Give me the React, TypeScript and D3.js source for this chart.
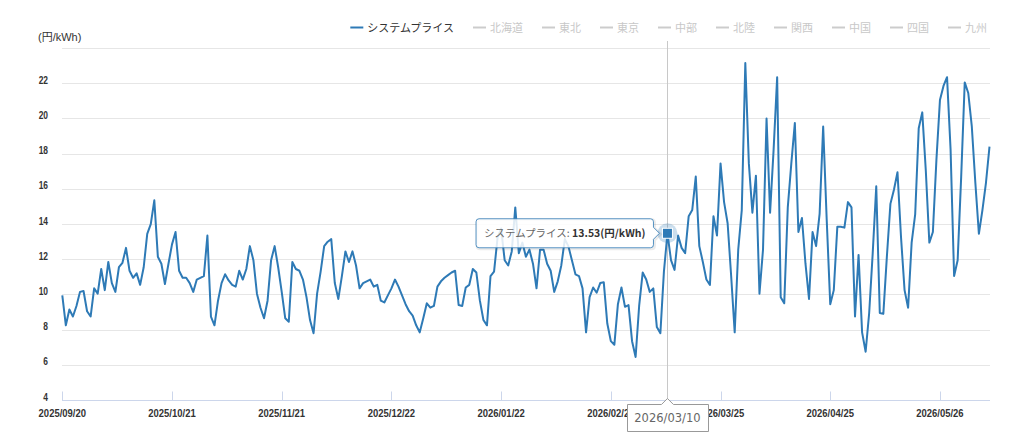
import React, { useRef, useEffect } from "react";
import * as d3 from "d3";

// daily system price (円/kWh), starting 2025/09/20
const startDate = "2025/09/20";
const systemPrice = [
  10.0, 8.3, 9.2, 8.8, 9.4, 10.2, 10.25, 9.1, 8.8, 10.4,
  10.1, 11.5, 10.3, 11.9, 10.7, 10.2, 11.6, 11.85, 12.7, 11.4,
  11.0, 11.25, 10.6, 11.6, 13.5, 14.05, 15.4, 12.2, 11.8, 10.65,
  11.8, 12.9, 13.6, 11.4, 11.0, 11.0, 10.7, 10.2, 10.9, 11.0,
  11.1, 13.4, 8.8, 8.3, 9.7, 10.7, 11.2, 10.85, 10.6, 10.5,
  11.4, 10.9, 11.5, 12.8, 12.0, 10.1, 9.3, 8.7, 9.7, 12.0,
  12.8, 11.6, 10.2, 8.7, 8.5, 11.9, 11.5, 11.4, 10.9, 9.9,
  8.6, 7.85, 10.1, 11.35, 12.8, 13.05, 13.2, 10.7, 9.8, 11.1,
  12.5, 11.9, 12.5, 11.7, 10.4, 10.7, 10.8, 10.9, 10.5, 10.6,
  9.7, 9.6, 10.0, 10.4, 10.9, 10.5, 10.0, 9.5, 9.1, 8.85,
  8.3, 7.9, 8.7, 9.55, 9.3, 9.4, 10.5, 10.8, 11.0, 11.15,
  11.3, 11.4, 9.45, 9.4, 10.45, 10.6, 11.5, 11.3, 9.7, 8.6,
  8.3, 11.1, 11.35, 13.3, 13.8, 12.0, 11.7, 12.5, 15.0, 12.4,
  13.0, 12.2, 12.6, 11.8, 10.4, 12.6, 12.6, 11.8, 11.4, 10.2,
  10.8, 11.7, 13.2, 12.8, 12.0, 11.2, 11.1, 10.4, 7.9, 9.9,
  10.45, 10.15, 10.7, 10.75, 8.4, 7.4, 7.2, 9.5, 10.45, 9.35,
  9.45, 7.4, 6.5, 9.4, 11.3, 10.9, 10.2, 10.4, 8.2, 7.85,
  11.35, 13.53, 12.0, 11.45, 13.4, 12.7, 12.4, 14.5, 14.85, 16.75,
  12.8, 11.9, 10.9, 10.6, 14.5, 13.4, 17.5, 15.3, 14.1, 11.1,
  7.9, 12.6, 14.85, 23.2, 17.5, 14.7, 16.8, 10.1, 12.6, 20.05,
  14.7, 18.3, 22.4, 9.9, 9.55, 15.0, 17.5, 19.8, 13.6, 14.4,
  11.8, 9.8, 13.6, 12.8, 14.65, 19.6, 14.3, 9.5, 10.3, 13.9,
  13.9, 13.85, 15.3, 15.0, 8.8, 12.3, 7.9, 6.8, 9.0, 12.4,
  16.2, 9.0, 8.95, 12.2, 15.2, 16.0, 17.0, 13.3, 10.3, 9.3,
  13.0, 14.6, 19.5, 20.4, 17.1, 13.0, 13.6, 17.7, 21.1, 21.9,
  22.4, 18.3, 11.1, 12.0, 16.75, 22.1, 21.5, 19.6, 16.4, 13.5,
  14.85, 16.4, 18.45,
];

const yTickValues = [4, 6, 8, 10, 12, 14, 16, 18, 20, 22];
const gridValues = [6, 8, 10, 12, 14, 16, 18, 20, 22, 24];
const legendNames = ["システムプライス", "北海道", "東北", "東京", "中部", "北陸", "関西", "中国", "四国", "九州"];
const activeSeries = "システムプライス";
const unitLabel = "(円/kWh)";
const labelStep = 31;
const hoverIndex = 171;

const PriceChart = () => {
  const ref = useRef<SVGSVGElement>(null);

  useEffect(() => {
    const svg = d3.select(ref.current);
    svg.selectAll("*").remove();

    const width = 1024;
    const height = 440;
    const margin = { top: 49, right: 34.5, bottom: 39, left: 62.3 };
    const color = "#2e7ab6";
    const numFont = "'Liberation Sans', Arial, sans-serif";
    const jpFont = "'Noto Sans CJK JP', sans-serif";

    // squeeze a text horizontally so it reads like a narrow font
    const narrow = function (this: SVGTextElement, ratio: number) {
      const w = this.getComputedTextLength();
      d3.select(this).attr("textLength", w * ratio).attr("lengthAdjust", "spacingAndGlyphs");
    };

    const parse = d3.utcParse("%Y/%m/%d");
    const fmt = d3.utcFormat("%Y/%m/%d");
    const start = parse(startDate) as Date;
    const dates = systemPrice.map((_, i) => fmt(d3.utcDay.offset(start, i)));

    const x = d3
      .scalePoint<string>()
      .domain(dates)
      .range([margin.left, width - margin.right]);
    const y = d3
      .scaleLinear()
      .domain([4, 24])
      .range([height - margin.bottom, margin.top]);

    const plotL = 62;
    const plotR = 990;
    const crisp = (v: number) => Math.round(v) + 0.5;

    // grid
    svg
      .append("g")
      .selectAll("line")
      .data(gridValues)
      .join("line")
      .attr("x1", plotL)
      .attr("x2", plotR)
      .attr("y1", (d) => crisp(y(d)) - 1)
      .attr("y2", (d) => crisp(y(d)) - 1)
      .attr("stroke", "#e6e6e6");

    // y labels
    svg
      .append("g")
      .selectAll("text")
      .data(yTickValues)
      .join("text")
      .attr("x", 48)
      .attr("y", (d) => y(d) - 0.5)
      .attr("text-anchor", "end")
      .attr("font-family", numFont)
      .attr("font-size", 10.5)
      .attr("font-weight", "bold")
      .attr("fill", "#333")
      .text((d) => d)
      .each(function () {
        narrow.call(this as SVGTextElement, 0.8);
      });

    svg
      .append("text")
      .attr("x", 38)
      .attr("y", 41)
      .attr("font-family", numFont + ", " + jpFont)
      .attr("font-size", 11)
      .attr("fill", "#333")
      .text(unitLabel);

    // x axis
    const tickDates = dates.filter((_, i) => i % labelStep === 0);
    const axisY = crisp(y(4)) - 1;
    svg
      .append("line")
      .attr("x1", plotL)
      .attr("x2", plotR)
      .attr("y1", axisY)
      .attr("y2", axisY)
      .attr("stroke", "#ccd6eb");
    svg
      .append("g")
      .selectAll("line")
      .data(tickDates)
      .join("line")
      .attr("x1", (d) => crisp(x(d)!))
      .attr("x2", (d) => crisp(x(d)!))
      .attr("y1", axisY - 9)
      .attr("y2", axisY)
      .attr("stroke", "#ccd6eb");
    svg
      .append("g")
      .selectAll("text")
      .data(tickDates)
      .join("text")
      .attr("x", (d) => x(d)!)
      .attr("y", 417)
      .attr("text-anchor", "middle")
      .attr("font-family", numFont)
      .attr("font-size", 11)
      .attr("font-weight", "bold")
      .attr("fill", "#333")
      .text((d) => d)
      .each(function () {
        narrow.call(this as SVGTextElement, 0.86);
      });

    // crosshair
    const mx = x(dates[hoverIndex])!;
    const my = y(systemPrice[hoverIndex]);
    svg
      .append("line")
      .attr("x1", crisp(mx))
      .attr("x2", crisp(mx))
      .attr("y1", 41)
      .attr("y2", axisY)
      .attr("stroke", "#c8c8c8");

    // series
    const line = d3
      .line<number>()
      .x((_, i) => x(dates[i])!)
      .y((d) => y(d));
    svg
      .append("path")
      .datum(systemPrice)
      .attr("d", line)
      .attr("fill", "none")
      .attr("stroke", color)
      .attr("stroke-width", 2)
      .attr("stroke-linejoin", "round");

    // hover marker
    svg
      .append("circle")
      .attr("cx", mx)
      .attr("cy", my)
      .attr("r", 10)
      .attr("fill", color)
      .attr("opacity", 0.25);
    svg
      .append("rect")
      .attr("x", mx - 5)
      .attr("y", my - 5)
      .attr("width", 10)
      .attr("height", 10)
      .attr("fill", color)
      .attr("stroke", "#fff")
      .attr("stroke-width", 1);

    // tooltip
    const tip = svg.append("g");
    const tipShadow = tip.append("path");
    const tipBox = tip.append("path");
    const tipText = tip
      .append("text")
      .attr("font-family", jpFont)
      .attr("font-size", 10.5)
      .attr("y", my + 4);
    tipText.append("tspan").attr("fill", "#666").text(`${activeSeries}: `);
    tipText
      .append("tspan")
      .attr("fill", "#333")
      .attr("font-weight", "bold")
      .text(`${systemPrice[hoverIndex].toFixed(2)}${unitLabel}`);
    const tw = (tipText.node() as SVGTextElement).getComputedTextLength();
    const r = mx - 14;
    const l = r - tw - 16;
    const t = my - 14.5;
    const b = my + 14.5;
    tipText.attr("x", l + 8);
    const tipPath = `M${l + 3},${t} H${r - 3} Q${r},${t} ${r},${t + 3} V${my - 6} L${r + 6},${my} L${r},${my + 6} V${b - 3} Q${r},${b} ${r - 3},${b} H${l + 3} Q${l},${b} ${l},${b - 3} V${t + 3} Q${l},${t} ${l + 3},${t} Z`;
    tipShadow
      .attr("d", tipPath)
      .attr("transform", "translate(1,1)")
      .attr("fill", "none")
      .attr("stroke", "rgba(0,0,0,0.08)")
      .attr("stroke-width", 3);
    tipBox
      .attr("d", tipPath)
      .attr("fill", "rgba(255,255,255,0.85)")
      .attr("stroke", color)
      .attr("stroke-opacity", 0.8);

    // x crosshair label
    const dl = svg.append("g");
    const dBox = dl.append("path");
    const dText = dl
      .append("text")
      .attr("x", mx)
      .attr("y", 422)
      .attr("text-anchor", "middle")
      .attr("font-family", "'DejaVu Sans', sans-serif")
      .attr("font-size", 11.5)
      .attr("fill", "#666")
      .text(dates[hoverIndex]);
    const dw = (dText.node() as SVGTextElement).getComputedTextLength();
    const dl0 = Math.round(mx - dw / 2 - 7) + 0.5;
    const dr0 = Math.round(mx + dw / 2 + 7) + 0.5;
    const dt = 404.5;
    const db = 431.5;
    dBox
      .attr(
        "d",
        `M${dl0},${dt} H${mx - 6} L${mx},${dt - 6} L${mx + 6},${dt} H${dr0} V${db} H${dl0} Z`
      )
      .attr("fill", "#fff")
      .attr("stroke", "#999");

    // legend
    const lg = svg.append("g");
    const items = legendNames.map((name) => {
      const g = lg.append("g");
      const on = name === activeSeries;
      g.append("line")
        .attr("x1", 0)
        .attr("x2", 13)
        .attr("y1", 27.5)
        .attr("y2", 27.5)
        .attr("stroke", on ? color : "#ccc")
        .attr("stroke-width", 2);
      const tx = g
        .append("text")
        .attr("x", 17)
        .attr("y", 31.5)
        .attr("font-family", jpFont)
        .attr("font-size", 11)
        .attr("fill", on ? "#333" : "#c8c8c8")
        .text(name);
      return { g, w: 17 + (tx.node() as SVGTextElement).getComputedTextLength() };
    });
    const gap = 19;
    const total = d3.sum(items, (d) => d.w) + gap * (items.length - 1);
    let cx = 987 - total;
    items.forEach((it) => {
      it.g.attr("transform", `translate(${cx},0)`);
      cx += it.w + gap;
    });
  }, []);

  return (
    <svg
      ref={ref}
      width={1024}
      height={440}
      style={{ position: "absolute", left: 0, top: 0, background: "#fff" }}
    ></svg>
  );
};

export default function App() {
  return <PriceChart />;
}
